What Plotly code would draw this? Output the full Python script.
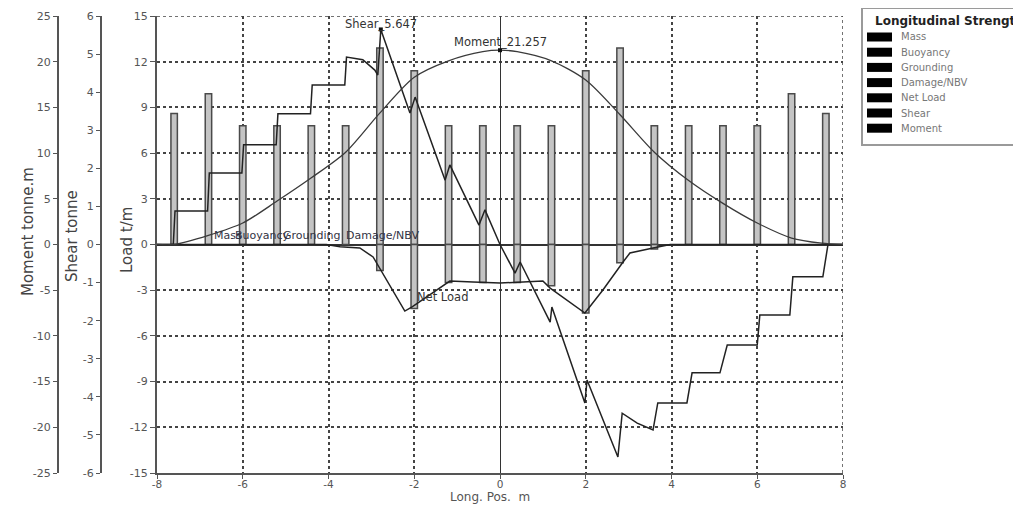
import plotly.graph_objects as go

# The page body adds an 8px margin, so the figure is drawn at (8, 8) in the window.
OFF = 8
W, H = 1021 - OFF, 506 - OFF
PL, PR, PT, PB = 157, 843, 16, 473   # plot area in window pixels

# ---------------- data ----------------
bar_pos = [-7.6, -6.8, -6.0, -5.2, -4.4, -3.6, -2.8, -2.0, -1.2, -0.4,
           0.4, 1.2, 2.0, 2.8, 3.6, 4.4, 5.2, 6.0, 6.8, 7.6]
mass = [8.6, 9.9, 7.8, 7.8, 7.8, 7.8, 12.9, 11.4, 7.8, 7.8,
        7.8, 7.8, 11.4, 12.9, 7.8, 7.8, 7.8, 7.8, 9.9, 8.6]

buoy_pos = [-2.8, -2.0, -1.2, -0.4, 0.4, 1.2, 2.0, 2.8, 3.6]
buoyancy = [-1.7, -4.2, -2.5, -2.5, -2.5, -2.7, -4.5, -1.2, -0.3]

net_x = [-8, -4.05, -3.73, -3.27, -2.96, -2.22, -2.05, -1.17, -0.63, 0.0,
         1.0, 1.17, 1.98, 2.4, 2.87, 3.03, 3.57, 3.97, 8]
net_y = [0, 0, -0.14, -0.23, -0.82, -4.37, -4.10, -2.40, -2.46, -2.53,
         -2.40, -2.86, -4.50, -2.99, -1.15, -0.56, -0.23, 0, 0]

shear_x = [-8, -7.62, -7.58, -6.82, -6.78, -6.02, -5.98, -5.22, -5.18, -4.42,
           -4.38, -3.62, -3.58, -3.2, -2.92, -2.85, -2.78, -2.1, -1.98, -1.28,
           -1.17, -0.49, -0.35, 0.0, 0.35, 0.47, 1.17, 1.21, 1.98, 2.03,
           2.75, 2.85, 3.2, 3.57, 3.68, 4.36, 4.48, 5.13, 5.3, 6.0,
           6.06, 6.76, 6.83, 7.53, 7.65, 8]
shear_y = [0, 0, 0.88, 0.88, 1.88, 1.88, 2.62, 2.62, 3.43, 3.43,
           4.19, 4.19, 4.92, 4.85, 4.58, 4.45, 5.647, 3.45, 3.87, 1.69,
           2.09, 0.51, 0.91, 0.0, -0.75, -0.46, -2.04, -1.64, -4.16, -3.56,
           -5.58, -4.43, -4.69, -4.87, -4.16, -4.16, -3.37, -3.37, -2.64, -2.64,
           -1.85, -1.85, -0.85, -0.85, 0.0, 0]

mom_x = [-8, -7.6, -6.8, -6.0, -5.2, -4.4, -3.6, -2.8, -2.0, -1.2, -0.4, 0.0,
         0.4, 1.2, 2.0, 2.8, 3.6, 4.4, 5.2, 6.0, 6.8, 7.5, 8]
mom_y = [0, 0, 1.0, 2.35, 4.75, 7.3, 10.1, 14.4, 18.3, 20.1, 21.1, 21.257,
         21.1, 20.1, 18.0, 14.2, 10.1, 7.0, 4.5, 2.35, 0.71, 0.15, 0]

x_ticks = [-8, -6, -4, -2, 0, 2, 4, 6, 8]
load_ticks = [-15, -12, -9, -6, -3, 0, 3, 6, 9, 12, 15]
shear_ticks = [-6, -5, -4, -3, -2, -1, 0, 1, 2, 3, 4, 5, 6]
moment_ticks = [-25, -20, -15, -10, -5, 0, 5, 10, 15, 20, 25]

legend_items = ["Mass", "Buoyancy", "Grounding", "Damage/NBV", "Net Load", "Shear", "Moment"]
series_labels = [("Mass", -6.72), ("Buoyancy", -6.23), ("Grounding", -5.11), ("Damage/NBV", -3.65)]

FONT = "DejaVu Sans"
AX = "#555555"


def px(xw):
    """window x pixel -> paper x"""
    return (xw - OFF) / W


def py(yw):
    """window y pixel -> paper y (paper y spans the plot area)"""
    return (PB - yw) / (PB - PT)


fig = go.Figure()

barstyle = dict(color="#c4c4c4", line=dict(color="#4a4a4a", width=1.5))
fig.add_trace(go.Bar(x=bar_pos, y=mass, width=0.15, name="Mass", marker=barstyle))
fig.add_trace(go.Bar(x=buoy_pos, y=buoyancy, width=0.15, name="Buoyancy", marker=barstyle))

fig.add_trace(go.Scatter(x=mom_x, y=mom_y, yaxis="y3", mode="lines", name="Moment",
                         line=dict(color="#3a3a3a", width=1.3, shape="spline", smoothing=0.8)))
fig.add_trace(go.Scatter(x=net_x, y=net_y, mode="lines", name="Net Load",
                         line=dict(color="#222222", width=1.5)))
fig.add_trace(go.Scatter(x=shear_x, y=shear_y, yaxis="y2", mode="lines", name="Shear",
                         line=dict(color="#222222", width=1.5)))

# peak markers
s_i = shear_y.index(max(shear_y))
m_i = mom_y.index(max(mom_y))
fig.add_trace(go.Scatter(x=[shear_x[s_i]], y=[shear_y[s_i]], yaxis="y2", mode="markers",
                         marker=dict(color="#111", size=4, symbol="square")))
fig.add_trace(go.Scatter(x=[mom_x[m_i]], y=[mom_y[m_i]], yaxis="y3", mode="markers",
                         marker=dict(color="#111", size=4, symbol="square")))

tickfont = dict(family=FONT, size=11, color="#555")
grid = dict(showgrid=True, gridcolor="#444", griddash="dot", gridwidth=1.5)

fig.update_layout(
    width=W, height=H,
    margin=dict(l=0, r=0, t=PT - OFF, b=H - (PB - OFF)),
    paper_bgcolor="white", plot_bgcolor="white",
    showlegend=False, barmode="overlay",
    font=dict(family=FONT, size=11, color="#555"),
    xaxis=dict(domain=[px(PL), px(PR)], range=[-8, 8],
               tickmode="array", tickvals=x_ticks, ticktext=[str(v) for v in x_ticks],
               zeroline=True, zerolinecolor="#333", zerolinewidth=1,
               showline=True, linecolor=AX, linewidth=2,
               ticks="outside", ticklen=4, tickcolor=AX,
               tickfont=dict(family=FONT, size=10.5, color="#555"), ticklabelstandoff=-4,
               automargin=False, **grid),
    yaxis=dict(range=[-15, 15], anchor="x",
               tickmode="array", tickvals=load_ticks, ticktext=[str(v) for v in load_ticks],
               zeroline=True, zerolinecolor="#333", zerolinewidth=1.5,
               showline=True, linecolor=AX, linewidth=2,
               ticks="outside", ticklen=5, tickcolor=AX, tickfont=tickfont,
               automargin=False, **grid),
    yaxis2=dict(range=[-6, 6], overlaying="y", anchor="free", position=px(101), side="left",
                tickmode="array", tickvals=shear_ticks, ticktext=[str(v) for v in shear_ticks],
                showgrid=False, zeroline=False,
                showline=True, linecolor=AX, linewidth=2,
                ticks="outside", ticklen=4, tickcolor=AX, tickfont=tickfont, automargin=False),
    yaxis3=dict(range=[-25, 25], overlaying="y", anchor="free", position=px(58), side="left",
                tickmode="array", tickvals=moment_ticks, ticktext=[str(v) for v in moment_ticks],
                showgrid=False, zeroline=False,
                showline=True, linecolor=AX, linewidth=2,
                ticks="outside", ticklen=4, tickcolor=AX, tickfont=tickfont, automargin=False),
)

ann = []


def paper_text(text, xw, yw, size, color, xanchor="center", angle=0, bold=False):
    ann.append(dict(text=f"<b>{text}</b>" if bold else text, x=px(xw), y=py(yw),
                    xref="paper", yref="paper", xanchor=xanchor, yanchor="middle",
                    textangle=angle, showarrow=False,
                    font=dict(family=FONT, size=size, color=color)))


# axis titles
paper_text("Moment tonne.m", 28, 232, 15, "#444", angle=-90)
paper_text("Shear tonne", 72, 236, 15, "#444", angle=-90)
paper_text("Load t/m", 127, 240, 15, "#444", angle=-90)
paper_text("Long. Pos.  m", 490, 497, 12, "#555")

# in-chart labels
ann.append(dict(text=f"Shear_{shear_y[s_i]:.3f}", x=shear_x[s_i], y=shear_y[s_i], xref="x", yref="y2",
                xanchor="center", yanchor="bottom", yshift=-4, showarrow=False,
                font=dict(family=FONT, size=11.5, color="#333")))
ann.append(dict(text=f"Moment_{mom_y[m_i]:.3f}", x=mom_x[m_i], y=mom_y[m_i], xref="x", yref="y3",
                xanchor="center", yanchor="bottom", yshift=-1, showarrow=False,
                font=dict(family=FONT, size=11.5, color="#333")))
ann.append(dict(text="Net Load", x=-1.98, y=-3.45, xref="x", yref="y",
                xanchor="left", yanchor="middle", showarrow=False,
                font=dict(family=FONT, size=11.5, color="#333")))
for txt, xv in series_labels:
    ann.append(dict(text=txt, x=xv, y=0.6, xref="x", yref="y", xanchor="left", yanchor="middle",
                    showarrow=False, font=dict(family=FONT, size=11, color="#334")))

shapes = []
# dotted frame on top and right edges (grid at the range ends)
shapes.append(dict(type="line", xref="x", yref="y", x0=-8, x1=8, y0=15, y1=15,
                   line=dict(color="#444", width=1.5, dash="dot")))
shapes.append(dict(type="line", xref="x", yref="y", x0=8, x1=8, y0=-15, y1=15,
                   line=dict(color="#444", width=1.5, dash="dot")))

# legend (manual)
shapes.append(dict(type="rect", xref="paper", yref="paper",
                   x0=px(862), x1=px(1040), y0=py(145), y1=py(8),
                   line=dict(color="#9a9a9a", width=2), fillcolor="white"))
paper_text("Longitudinal Strength", 873, 21, 12, "#222", xanchor="left", bold=True)
for i, name in enumerate(legend_items):
    yc = 37 + i * 15.2
    shapes.append(dict(type="rect", xref="paper", yref="paper",
                       x0=px(867), x1=px(892), y0=py(yc + 4.5), y1=py(yc - 4.5),
                       line=dict(width=0), fillcolor="black"))
    paper_text(name, 899, yc, 10, "#777", xanchor="left")

fig.update_layout(annotations=ann, shapes=shapes)

fig.write_html("out.html")
